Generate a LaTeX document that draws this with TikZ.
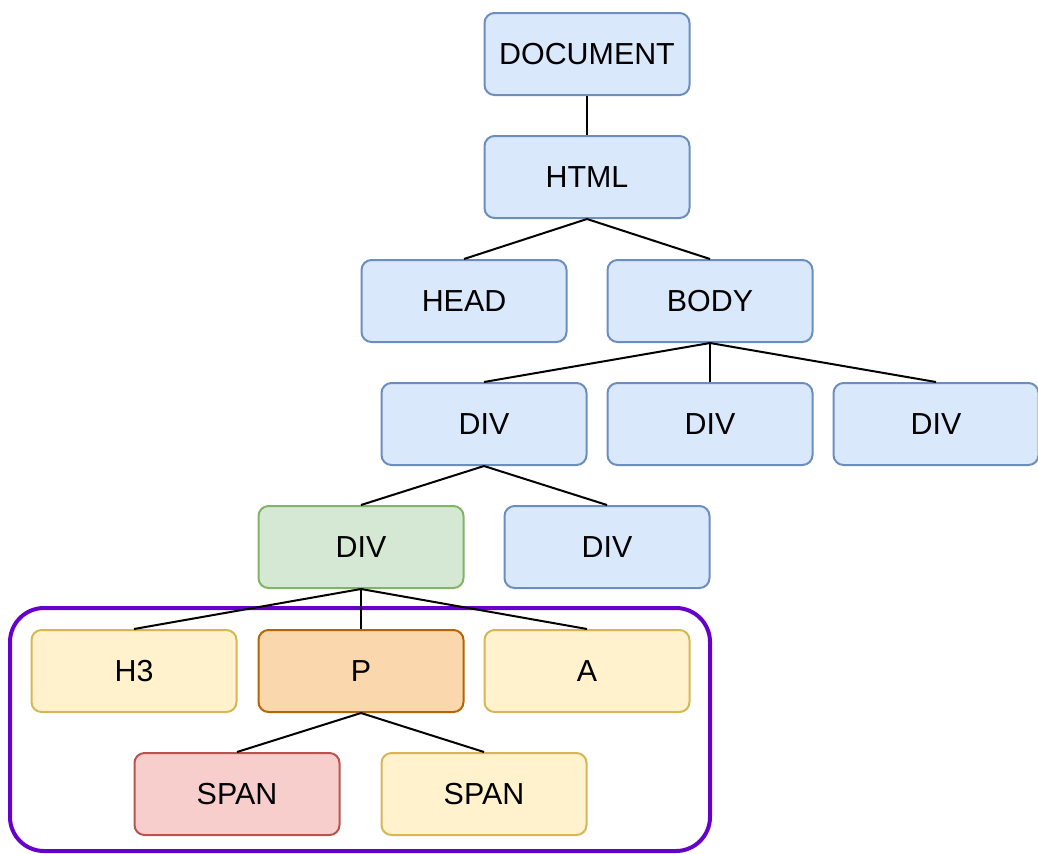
\documentclass[tikz,border=0pt]{standalone}
\usepackage{fontspec}
\setmainfont{Liberation Sans}

\definecolor{blueFill}{HTML}{DAE8FC}
\definecolor{blueLine}{HTML}{6C8EBF}
\definecolor{greenFill}{HTML}{D5E8D4}
\definecolor{greenLine}{HTML}{82B366}
\definecolor{yellowFill}{HTML}{FFF2CC}
\definecolor{yellowLine}{HTML}{D6B656}
\definecolor{orangeFill}{HTML}{FAD7AC}
\definecolor{orangeLine}{HTML}{B46504}
\definecolor{redFill}{HTML}{F8CECC}
\definecolor{redLine}{HTML}{B85450}
\definecolor{groupLine}{HTML}{6600CC}

\begin{document}
\begin{tikzpicture}[x=0.5pt, y=-0.5pt,
    box/.style={draw, rounded corners=5pt, line width=1pt,
        minimum width=102.5pt, minimum height=41pt,
        font=\fontsize{15.2}{18}\selectfont},
    bluebox/.style={box, fill=blueFill, draw=blueLine},
    greenbox/.style={box, fill=greenFill, draw=greenLine},
    yellowbox/.style={box, fill=yellowFill, draw=yellowLine},
    orangebox/.style={box, fill=orangeFill, draw=orangeLine},
    redbox/.style={box, fill=redFill, draw=redLine},
    link/.style={line width=1pt, black}]

    % --- Page size ---
    \useasboundingbox (0,0) rectangle (1038,853);

    % --- Group frame round the selected part ---
    \draw[groupLine, line width=2pt, rounded corners=17pt] (10,608) rectangle (710,851);

    % --- Nodes (top to bottom) ---
    \node[bluebox] (doc) at (587,54) {DOCUMENT};
    \node[bluebox] (html) at (587,177) {HTML};

    \node[bluebox] (head) at (464,301) {HEAD};
    \node[bluebox] (body) at (710,301) {BODY};

    \node[bluebox] (divA) at (484,424) {DIV};
    \node[bluebox] (divB) at (710,424) {DIV};
    \node[bluebox] (divC) at (936,424) {DIV};

    \node[greenbox] (divInner) at (361,547) {DIV};
    \node[bluebox] (divSide) at (607,547) {DIV};

    \node[yellowbox] (hthree) at (134,671) {H3};
    \node[orangebox] (para) at (361,671) {P};
    \node[yellowbox] (anchor) at (587,671) {A};

    \node[redbox] (spanA) at (237,794) {SPAN};
    \node[yellowbox] (spanB) at (484,794) {SPAN};

    % --- Links from parent to child ---
    \draw[link] (doc.south) -- (html.north);

    \draw[link] (html.south) -- (head.north);
    \draw[link] (html.south) -- (body.north);

    \draw[link] (body.south) -- (divA.north);
    \draw[link] (body.south) -- (divB.north);
    \draw[link] (body.south) -- (divC.north);

    \draw[link] (divA.south) -- (divInner.north);
    \draw[link] (divA.south) -- (divSide.north);

    \draw[link] (divInner.south) -- (hthree.north);
    \draw[link] (divInner.south) -- (para.north);
    \draw[link] (divInner.south) -- (anchor.north);

    \draw[link] (para.south) -- (spanA.north);
    \draw[link] (para.south) -- (spanB.north);

\end{tikzpicture}
\end{document}
